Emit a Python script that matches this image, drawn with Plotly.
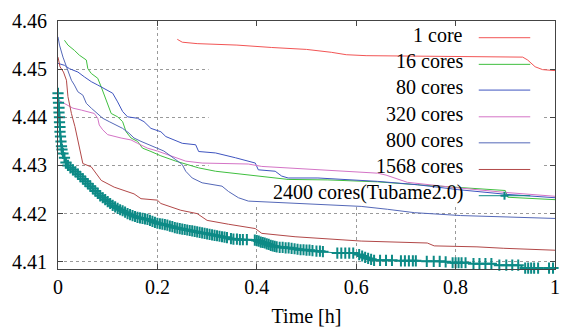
import plotly.graph_objects as go

# ---- data ----
x_1 = [0.240, 0.250, 0.280, 0.360, 0.430, 0.500, 0.550, 0.580, 0.620, 0.800, 0.935, 0.945, 0.960, 0.975, 1.000]
y_1 = [4.4562, 4.4556, 4.4553, 4.4550, 4.4545, 4.4541, 4.4535, 4.4530, 4.4528, 4.4526, 4.4525, 4.4519, 4.4505, 4.4499, 4.4497]

x_16 = [0.013, 0.020, 0.033, 0.043, 0.057, 0.060, 0.067, 0.080, 0.087, 0.093, 0.097, 0.107, 0.120, 0.130,
        0.137, 0.147, 0.160, 0.170, 0.187, 0.207, 0.237, 0.283, 0.317, 0.357, 0.403, 0.463, 0.543, 0.643,
        0.723, 0.803, 0.857, 0.900, 0.905, 0.950, 1.000]
y_16 = [4.4560, 4.4550, 4.4539, 4.4529, 4.4519, 4.4501, 4.4491, 4.4481, 4.4463, 4.4446, 4.4436, 4.4408, 4.4401, 4.4391,
        4.4370, 4.4357, 4.4350, 4.4336, 4.4329, 4.4320, 4.4309, 4.4295, 4.4288, 4.4283, 4.4277, 4.4271, 4.4270, 4.4266,
        4.4260, 4.4254, 4.4250, 4.4248, 4.4234, 4.4231, 4.4229]

x_80 = [0.000, 0.013, 0.023, 0.040, 0.053, 0.067, 0.080, 0.093, 0.110, 0.120, 0.130, 0.140, 0.160, 0.173,
        0.187, 0.207, 0.217, 0.250, 0.277, 0.283, 0.317, 0.357, 0.383, 0.397, 0.403, 0.437, 0.450, 0.463,
        0.523, 0.643, 0.723, 0.803, 0.903, 1.000]
y_80 = [4.4512, 4.4508, 4.4501, 4.4494, 4.4484, 4.4474, 4.4467, 4.4460, 4.4450, 4.4432, 4.4412, 4.4401, 4.4398, 4.4391,
        4.4377, 4.4370, 4.4360, 4.4346, 4.4343, 4.4329, 4.4326, 4.4316, 4.4308, 4.4305, 4.4291, 4.4288, 4.4278, 4.4274,
        4.4274, 4.4267, 4.4260, 4.4250, 4.4240, 4.4233]

x_320 = [0.000, 0.017, 0.030, 0.047, 0.060, 0.073, 0.080, 0.083, 0.090, 0.100, 0.127, 0.147, 0.160, 0.180,
         0.200, 0.223, 0.257, 0.290, 0.383, 0.410, 0.463, 0.543, 0.643, 0.660, 0.703, 0.800, 0.900, 1.000]
y_320 = [4.4436, 4.4426, 4.4419, 4.4415, 4.4412, 4.4408, 4.4398, 4.4384, 4.4374, 4.4364, 4.4357, 4.4353, 4.4346, 4.4336,
         4.4330, 4.4322, 4.4309, 4.4305, 4.4303, 4.4298, 4.4295, 4.4291, 4.4284, 4.4280, 4.4265, 4.4254, 4.4244, 4.4236]

x_800 = [0.000, 0.003, 0.010, 0.020, 0.027, 0.033, 0.040, 0.050, 0.057, 0.067, 0.080, 0.090, 0.103, 0.117,
         0.130, 0.143, 0.153, 0.167, 0.193, 0.213, 0.237, 0.250, 0.257, 0.270, 0.290, 0.330, 0.343, 0.363,
         0.383, 0.443, 0.610, 0.663, 0.717, 0.810, 0.943, 1.000]
y_800 = [4.4567, 4.4550, 4.4525, 4.4494, 4.4477, 4.4467, 4.4453, 4.4446, 4.4429, 4.4419, 4.4408, 4.4398, 4.4391, 4.4384,
         4.4377, 4.4367, 4.4357, 4.4350, 4.4339, 4.4330, 4.4312, 4.4302, 4.4288, 4.4274, 4.4264, 4.4257, 4.4246, 4.4233,
         4.4226, 4.4223, 4.4215, 4.4209, 4.4202, 4.4196, 4.4192, 4.4190]

x_1568 = [0.000, 0.004, 0.011, 0.017, 0.020, 0.027, 0.034, 0.040, 0.044, 0.050, 0.067, 0.077, 0.087, 0.113,
          0.133, 0.153, 0.167, 0.200, 0.207, 0.247, 0.280, 0.300, 0.343, 0.397, 0.410, 0.477, 0.610, 0.743,
          0.757, 0.843, 0.897, 1.000]
y_1568 = [4.4525, 4.4505, 4.4494, 4.4477, 4.4443, 4.4408, 4.4381, 4.4353, 4.4333, 4.4304, 4.4297, 4.4283, 4.4269, 4.4255,
          4.4248, 4.4241, 4.4231, 4.4228, 4.4221, 4.4207, 4.4200, 4.4186, 4.4178, 4.4169, 4.4159, 4.4152, 4.4143, 4.4139,
          4.4133, 4.4131, 4.4128, 4.4124]

x_2400 = [0.000, 0.000, 0.001, 0.002, 0.002, 0.003, 0.003, 0.004, 0.004, 0.005, 0.006, 0.007, 0.008, 0.010,
          0.013, 0.016, 0.020, 0.025, 0.030, 0.035, 0.040, 0.045, 0.050, 0.055, 0.060, 0.065, 0.070, 0.075,
          0.080, 0.085, 0.090, 0.095, 0.100, 0.105, 0.110, 0.115, 0.120, 0.125, 0.130, 0.135, 0.140, 0.145,
          0.150, 0.155, 0.160, 0.165, 0.170, 0.175, 0.180, 0.185, 0.190, 0.195, 0.200, 0.205, 0.210, 0.215,
          0.220, 0.225, 0.230, 0.235, 0.240, 0.245, 0.250, 0.255, 0.260, 0.265, 0.270, 0.275, 0.280, 0.285,
          0.290, 0.295, 0.300, 0.305, 0.310, 0.315, 0.320, 0.325, 0.330, 0.335, 0.340, 0.348, 0.353, 0.360,
          0.366, 0.372, 0.380, 0.396, 0.400, 0.404, 0.408, 0.412, 0.416, 0.420, 0.424, 0.428, 0.432, 0.436,
          0.440, 0.446, 0.452, 0.458, 0.464, 0.470, 0.476, 0.482, 0.488, 0.494, 0.500, 0.506, 0.512, 0.520,
          0.527, 0.533, 0.562, 0.570, 0.578, 0.586, 0.594, 0.606, 0.612, 0.618, 0.624, 0.630, 0.636, 0.648,
          0.660, 0.672, 0.690, 0.698, 0.706, 0.714, 0.720, 0.742, 0.756, 0.768, 0.780, 0.794, 0.800, 0.806,
          0.812, 0.820, 0.836, 0.848, 0.860, 0.872, 0.888, 0.902, 0.914, 0.926, 0.940, 0.946, 0.952, 0.958,
          0.966, 0.988, 0.996]
y_2400 = [4.4450, 4.4440, 4.4430, 4.4420, 4.4410, 4.4400, 4.4390, 4.4380, 4.4370, 4.4360, 4.4350, 4.4340, 4.4333, 4.4325,
          4.4316, 4.4306, 4.4300, 4.4295, 4.4291, 4.4287, 4.4282, 4.4277, 4.4272, 4.4267, 4.4262, 4.4257, 4.4252, 4.4247,
          4.4242, 4.4237, 4.4233, 4.4229, 4.4225, 4.4221, 4.4217, 4.4214, 4.4211, 4.4208, 4.4206, 4.4203, 4.4200, 4.4198,
          4.4196, 4.4194, 4.4192, 4.4191, 4.4190, 4.4189, 4.4188, 4.4186, 4.4184, 4.4182, 4.4180, 4.4179, 4.4178, 4.4177,
          4.4176, 4.4174, 4.4173, 4.4171, 4.4170, 4.4169, 4.4168, 4.4167, 4.4166, 4.4165, 4.4164, 4.4163, 4.4162, 4.4161,
          4.4160, 4.4159, 4.4158, 4.4157, 4.4156, 4.4155, 4.4154, 4.4153, 4.4152, 4.4151, 4.4150, 4.4148, 4.4147, 4.4147,
          4.4146, 4.4146, 4.4146, 4.4145, 4.4144, 4.4143, 4.4141, 4.4140, 4.4139, 4.4137, 4.4136, 4.4134, 4.4133, 4.4132,
          4.4131, 4.4130, 4.4130, 4.4129, 4.4129, 4.4128, 4.4127, 4.4126, 4.4125, 4.4125, 4.4124, 4.4124, 4.4123, 4.4122,
          4.4122, 4.4121, 4.4118, 4.4118, 4.4118, 4.4118, 4.4118, 4.4115, 4.4112, 4.4109, 4.4107, 4.4105, 4.4103, 4.4103,
          4.4103, 4.4103, 4.4102, 4.4102, 4.4102, 4.4102, 4.4102, 4.4101, 4.4101, 4.4101, 4.4100, 4.4098, 4.4098, 4.4098,
          4.4098, 4.4098, 4.4096, 4.4096, 4.4096, 4.4096, 4.4093, 4.4093, 4.4093, 4.4093, 4.4087, 4.4087, 4.4087, 4.4087,
          4.4087, 4.4087, 4.4087]

labels = ["1 core", "16 cores", "80 cores", "320 cores", "800 cores", "1568 cores", "2400 cores(Tubame2.0)"]
colors = ["#f25555", "#3fbf3f", "#3f55c0", "#d474c6", "#5468b8", "#b24848", "#0d8a86"]
series = [(x_1, y_1), (x_16, y_16), (x_80, y_80), (x_320, y_320), (x_800, y_800), (x_1568, y_1568), (x_2400, y_2400)]

x_ticks = [0, 0.2, 0.4, 0.6, 0.8, 1]
y_ticks = [4.41, 4.42, 4.43, 4.44, 4.45, 4.46]

FONT = "Liberation Serif"

fig = go.Figure()
for i, ((xs, ys), name, c) in enumerate(zip(series, labels, colors)):
    if i == 6:
        fig.add_trace(go.Scatter(x=xs, y=ys, name=name, mode="lines+markers",
                                 line=dict(color=c, width=1),
                                 marker=dict(symbol="cross-thin", size=8, line=dict(color=c, width=2)),
                                 cliponaxis=False, showlegend=False))
    else:
        fig.add_trace(go.Scatter(x=xs, y=ys, name=name, mode="lines",
                                 line=dict(color=c, width=1), showlegend=False))

# manual gnuplot-style key (grid is hidden behind the key area, as in the reference)
row_y = [0.9326, 0.8252, 0.7214, 0.6137, 0.5087, 0.4013, 0.2955]
shapes = [dict(type="rect", xref="x", yref="y", x0=0.303, x1=0.974, y0=4.4217, y1=4.46,
               fillcolor="white", line=dict(width=0), layer="between")]
annotations = []
for name, c, ry in zip(labels, colors, row_y):
    annotations.append(dict(xref="paper", yref="paper", x=0.8187, y=ry, xanchor="right", yanchor="middle",
                            text=name, showarrow=False, yshift=3,
                            font=dict(family=FONT, size=20, color="black")))
    shapes.append(dict(type="line", xref="paper", yref="paper", x0=0.8466, x1=0.9502, y0=ry, y1=ry,
                       line=dict(color=c, width=1)))
# marker on the last key sample
cx = (0.8466 + 0.9502) / 2
cy = row_y[6]
shapes.append(dict(type="line", xref="paper", yref="paper", x0=cx - 0.008, x1=cx + 0.008, y0=cy, y1=cy,
                   line=dict(color=colors[6], width=2)))
shapes.append(dict(type="line", xref="paper", yref="paper", x0=cx, x1=cx, y0=cy - 0.016, y1=cy + 0.016,
                   line=dict(color=colors[6], width=2)))

axis_common = dict(showline=True, linecolor="#444444", linewidth=1, mirror="ticks",
                   ticks="inside", ticklen=5, tickcolor="#444444",
                   showgrid=True, gridcolor="#9a9a9a", griddash="dot", gridwidth=1,
                   zeroline=False, tickfont=dict(family=FONT, size=20, color="black"))

fig.update_layout(
    width=565, height=329,
    margin=dict(l=58, r=5, t=21, b=60),
    plot_bgcolor="white", paper_bgcolor="white",
    font=dict(family=FONT, size=20, color="black"),
    shapes=shapes, annotations=annotations,
    xaxis=dict(range=[0, 1], tickvals=x_ticks, ticktext=["0", "0.2", "0.4", "0.6", "0.8", "1"],
               title=dict(text="Time [h]", font=dict(family=FONT, size=20, color="black"), standoff=11),
               **axis_common),
    yaxis=dict(range=[4.4085, 4.46], tickvals=y_ticks, ticktext=[f"{v:.2f}" for v in y_ticks],
               ticklabelstandoff=6, **axis_common),
)
fig.write_html("out.html")
